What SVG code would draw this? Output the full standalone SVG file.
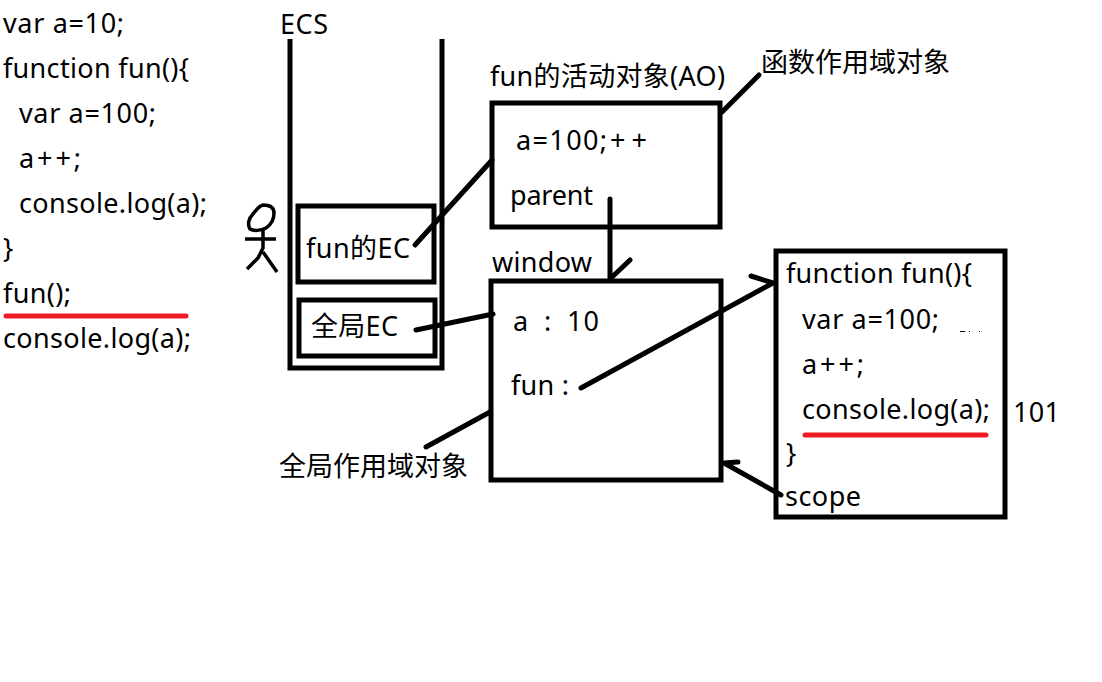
<svg xmlns="http://www.w3.org/2000/svg" width="1102" height="682" viewBox="0 0 1102 682">
<style>
text{font-family:"Noto Sans","Noto Sans CJK SC",sans-serif;font-size:27px;fill:#000}
.b{fill:none;stroke:#000;stroke-width:5}
.c{fill:none;stroke:#000;stroke-width:5;stroke-linecap:round;stroke-linejoin:round}
.r{fill:none;stroke:#ed1c24;stroke-width:5;stroke-linecap:round}
</style>
<rect width="1102" height="682" fill="#fff"/>
<g id="code">
<text x="3" y="33" textLength="121">var a=10;</text>
<text x="3" y="78" textLength="186">function fun(){</text>
<text x="19" y="123" textLength="137">var a=100;</text>
<text x="19" y="168" textLength="62">a++;</text>
<text x="19" y="213" textLength="188">console.log(a);</text>
<text x="3" y="258">}</text>
<text x="3" y="303" textLength="68">fun();</text>
<text x="3" y="348" textLength="188">console.log(a);</text>
<path class="r" d="M6 316H186"/>
</g>
<g id="ecs">
<text x="280" y="34" textLength="48">ECS</text>
<path class="b" d="M290 39V368H442V39"/>
</g>
<g id="person">
<path fill="none" stroke="#000" stroke-width="3.5" d="M263 205C269 205 274 207 274 213C274 219 272 224 266 228C261 231 253 231 250 229C247 224 249 218 253 214C256 210 259 206 263 205ZM245 239H276M263 230V248L258 258L247 269M263 252L277 272"/>
</g>
<g id="fun-ec">
<rect class="b" x="298" y="206" width="136" height="76"/>
<text x="306" y="258" textLength="104">fun的EC</text>
</g>
<g id="global-ec">
<rect class="b" x="299" y="300" width="136" height="56"/>
<text x="311" y="336" textLength="87">全局EC</text>
</g>
<g id="ao">
<text x="490" y="86" textLength="235">fun的活动对象(AO)</text>
<rect class="b" x="492" y="103" width="228" height="124"/>
<text y="150"><tspan x="516" textLength="91">a=100;</tspan><tspan x="610" textLength="37">++</tspan></text>
<text x="510" y="205" textLength="83">parent</text>
</g>
<g id="ao-label"><text x="761" y="72">函数作用域对象</text></g>
<g id="window">
<text x="492" y="272" textLength="100">window</text>
<rect class="b" x="491" y="281" width="230" height="199"/>
<text y="331"><tspan x="513">a</tspan><tspan x="544">:</tspan><tspan x="567" textLength="32">10</tspan></text>
<text x="511" y="395" textLength="58">fun :</text>
</g>
<g id="global-label"><text x="279" y="476">全局作用域对象</text></g>
<g id="func">
<rect class="b" x="776" y="251" width="229" height="266"/>
<text x="786" y="283" textLength="186">function fun(){</text>
<text x="802" y="329" textLength="137">var a=100;</text>
<text x="802" y="374" textLength="62">a++;</text>
<text x="802" y="419" textLength="188">console.log(a);</text>
<text x="786" y="463">}</text>
<text x="785" y="506" textLength="76">scope</text>
<path class="r" d="M805 435H986"/>
<path d="M960 331h5v1h-5zM969 331h1v1h-1zM979 331h1v1h-1z" fill="#000"/>
</g>
<g id="result"><text x="1013" y="422" textLength="47">101</text></g>
<g id="connectors">
<path class="c" d="M415 245L492 160"/>
<path class="c" d="M416 330L493 314"/>
<path class="c" d="M610 199V279L630 260"/>
<path class="c" d="M722 112L759 75"/>
<path class="c" d="M581 388L773 283L751 276"/>
<path class="c" d="M781 495L724 463L738 462"/>
<path class="c" d="M426 447L490 412"/>
</g>
</svg>
